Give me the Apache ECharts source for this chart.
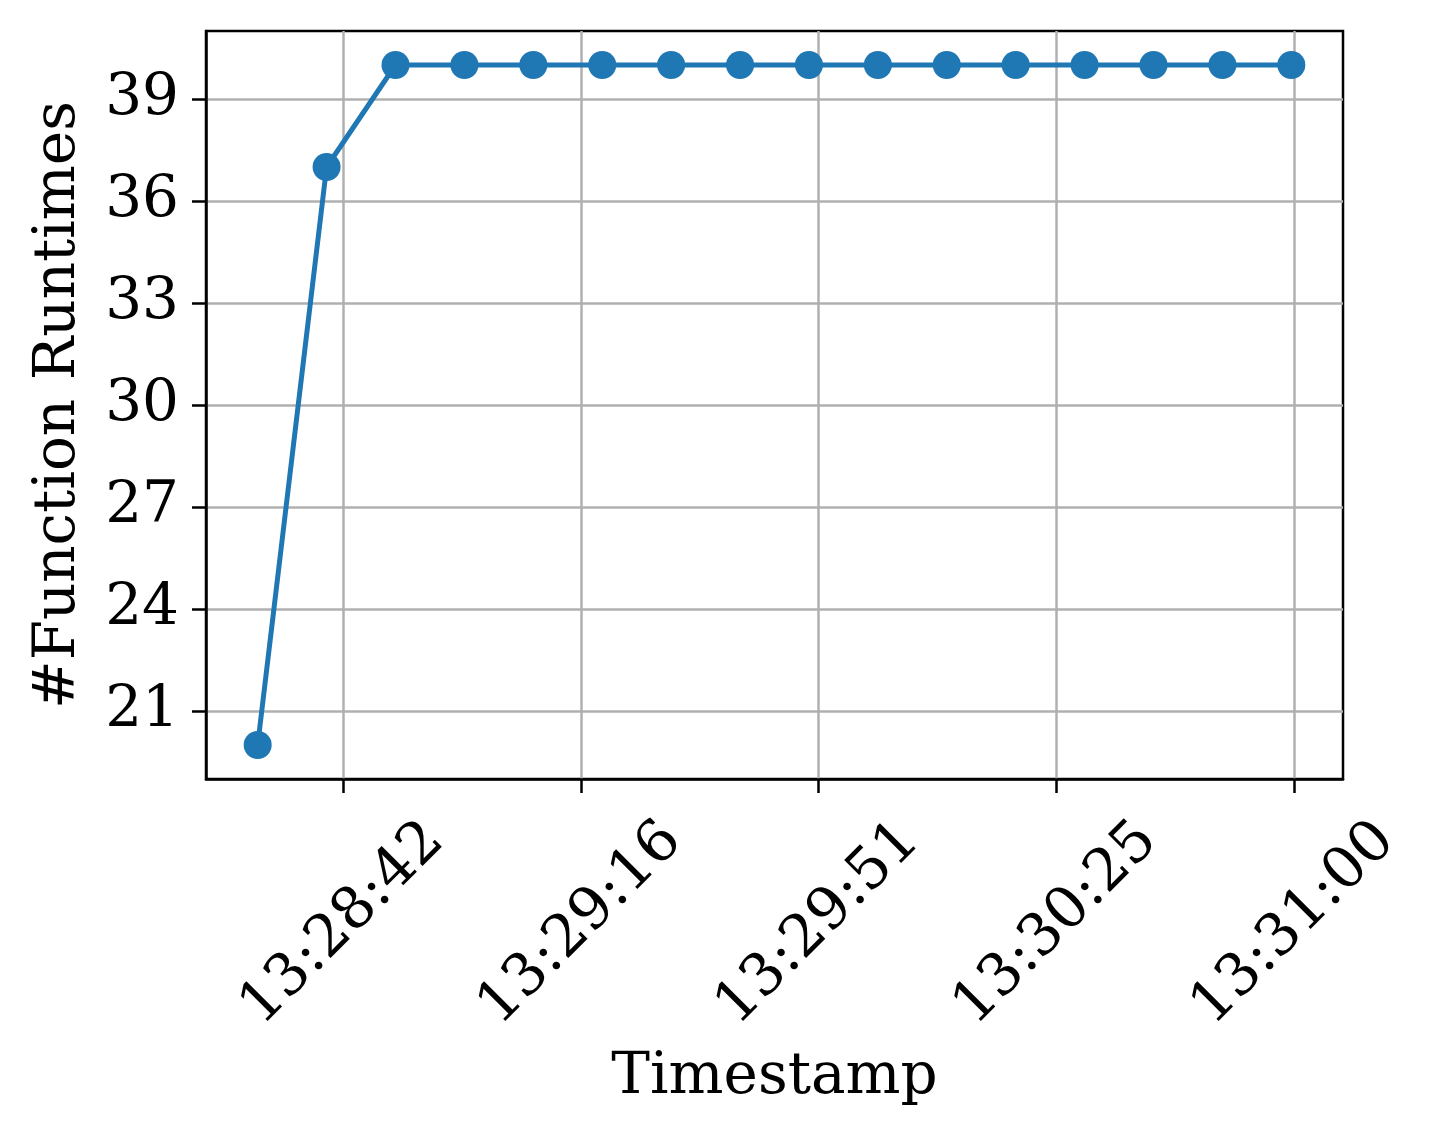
<!DOCTYPE html>
<html>
<head>
<meta charset="utf-8">
<title>#Function Runtimes</title>
<script src="https://cdn.jsdelivr.net/npm/echarts@6/dist/echarts.min.js"></script>
<style>
  html, body { margin: 0; padding: 0; background: #fff; }
  #chart { width: 1437px; height: 1137px; }
</style>
</head>
<body>
<div id="chart"></div>
<script>
// seconds after the first sample (13:28:29.6)
const startSec = 13 * 3600 + 28 * 60 + 29.6
const sampleSecs = [0, 10, 20, 30, 40, 50, 60, 70, 80, 90, 100, 110, 120, 130, 140, 150]
const runtimes = [20, 37, 40, 40, 40, 40, 40, 40, 40, 40, 40, 40, 40, 40, 40, 40]
const xTicks = [12.4, 46.9, 81.4, 115.9, 150.4]
const yTicks = [21, 24, 27, 30, 33, 36, 39]

const font = 'DejaVu Serif'

function fmtTime (v) {
  const t = Math.floor(startSec + v + 1e-6)
  const pad = n => String(n).padStart(2, '0')
  return pad(Math.floor(t / 3600)) + ':' + pad(Math.floor(t / 60) % 60) + ':' + pad(t % 60)
}

const chart = echarts.init(document.getElementById('chart'))

const option = {
  animation: false,
  backgroundColor: '#fff',
  grid: {
    left: 206,
    right: 94,
    top: 31,
    bottom: 358,
    show: true,
    borderColor: '#000',
    borderWidth: 2.5,
    outerBoundsMode: 'none'
  },
  xAxis: {
    type: 'value',
    min: -7.5,
    max: 157.5,
    name: 'Timestamp',
    nameLocation: 'middle',
    nameGap: 270,
    nameTextStyle: { fontFamily: font, fontSize: 58, color: '#000' },
    axisLine: { show: true, onZero: false, lineStyle: { color: '#000', width: 2.5 } },
    axisTick: { show: true, length: 14, customValues: xTicks, lineStyle: { color: '#000', width: 2.5 } },
    axisLabel: {
      customValues: xTicks,
      rotate: 45,
      align: 'center',
      verticalAlign: 'middle',
      margin: 145,
      fontFamily: font,
      fontSize: 58,
      color: '#000',
      formatter: v => fmtTime(v)
    },
    splitLine: { show: true, lineStyle: { color: '#b0b0b0', width: 2.5 } }
  },
  yAxis: {
    type: 'value',
    min: 19,
    max: 41,
    name: '#Function Runtimes',
    nameLocation: 'middle',
    nameGap: 118,
    nameTextStyle: { fontFamily: font, fontSize: 58, color: '#000' },
    axisLine: { show: true, onZero: false, lineStyle: { color: '#000', width: 2.5 } },
    axisTick: { show: true, length: 14, customValues: yTicks, lineStyle: { color: '#000', width: 2.5 } },
    axisLabel: {
      customValues: yTicks,
      margin: 27,
      fontFamily: font,
      fontSize: 58,
      color: '#000'
    },
    splitLine: { show: true, lineStyle: { color: '#b0b0b0', width: 2.5 } }
  },
  series: [
    {
      type: 'line',
      data: sampleSecs.map((s, i) => [s, runtimes[i]]),
      symbol: 'circle',
      symbolSize: 28,
      lineStyle: { color: '#1f77b4', width: 5 },
      itemStyle: { color: '#1f77b4' },
      z: 5
    }
  ]
}

chart.setOption(option)
</script>
</body>
</html>
